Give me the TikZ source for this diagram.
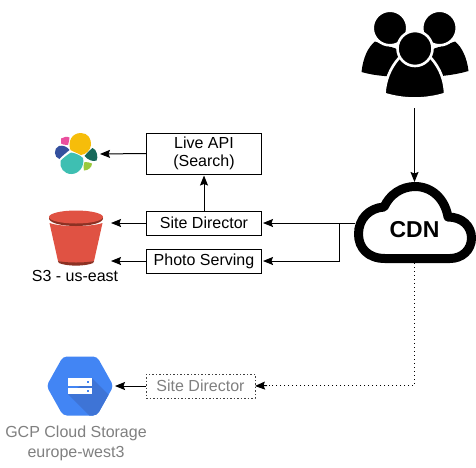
\documentclass[tikz,border=0pt]{standalone}
\usepackage{fontspec}
\setmainfont{Liberation Sans}
\usetikzlibrary{arrows.meta}
\definecolor{grayt}{HTML}{808080}
\definecolor{bkt}{HTML}{E05243}
\definecolor{bktd}{HTML}{8C3123}
\definecolor{gcpb}{HTML}{4285F4}
\definecolor{gcpd}{HTML}{3E74D6}
\definecolor{esy}{HTML}{F6BD0A}
\definecolor{est}{HTML}{3EBFB2}
\definecolor{esn}{HTML}{34509E}
\definecolor{esg}{HTML}{17695A}
\definecolor{esp}{HTML}{EA4F9E}
\definecolor{esl}{HTML}{99C93C}
\tikzset{
  x=1pt,y=-1pt,
  lbl/.style={font=\fontsize{16}{20}\selectfont,align=center,inner sep=0pt,text=black},
  glbl/.style={font=\fontsize{16}{20}\selectfont,align=center,inner sep=0pt,text=grayt},
  svc/.style={draw=black,line width=1pt,minimum width=115pt,inner sep=0pt,outer sep=0pt,
     font=\fontsize{16}{20}\selectfont,align=center},
  conn/.style={draw=black,line width=1pt,shorten >=1.5pt,-{Stealth[length=10pt,width=8pt,inset=1.5pt]}},
  dotc/.style={draw=black,line width=0.8pt,dash pattern=on 1.2pt off 2.8pt,shorten >=1.5pt},
  halo/.style={draw=white,line width=2.6pt},
}
\begin{document}
\begin{tikzpicture}
\useasboundingbox (0,0) rectangle (476,467);
\fill[white] (0,0) rectangle (476,467);
% users: left and right back figures
\fill[black] (361.5,72) .. controls (363,58) and (368,47) .. (375,41.5)
  -- (400,50) -- (410,77) .. controls (392,77) and (375,76) .. (361.5,72) -- cycle;
\fill[black] (468.5,71) .. controls (467,58) and (462,47) .. (455,41.5)
  -- (430,50) -- (420,77) .. controls (438,77) and (455,75) .. (468.5,71) -- cycle;
\fill[black,draw=white,line width=2.6pt] (390,28) circle[radius=17.3];
\fill[black,draw=white,line width=2.6pt] (439.5,28) circle[radius=17.3];
% front figure
\fill[black,halo] (384.5,94) .. controls (385,81) and (390,68) .. (399,58)
  -- (431,58)
  .. controls (440,68) and (445,81) .. (445,94)
  .. controls (425,100) and (404,100) .. (384.5,94) -- cycle;
\fill[black,draw=white,line width=2.6pt] (415,48.5) circle[radius=17.5];
\coordinate (users) at (414.5,108);
% cloud
\draw[black,line width=9pt,line join=round,fill=white]
  (385,258.5) .. controls (368,258.5) and (358.5,248) .. (358.5,234)
  .. controls (358.5,219) and (369,208) .. (384,207)
  .. controls (390,194) and (402,186.5) .. (415,186.5)
  .. controls (432,186.5) and (445,199) .. (448,217)
  .. controls (462,217) and (471.5,226) .. (471.5,238)
  .. controls (471.5,250) and (462,258.5) .. (450,258.5) -- cycle;
\node[inner sep=0pt,font=\fontsize{23}{26}\selectfont\bfseries] (cdn) at (414.5,230) {CDN};
\coordinate (cdnTop) at (414.5,183.5);
\coordinate (cdnLeft) at (355,223);
\coordinate (cdnBottom) at (414.5,263);
\coordinate (branch) at (339,223);
\coordinate (dotCorner) at (414.5,385.5);
\coordinate (dotEnd) at (267,385.5);
% boxes
\node[svc,minimum height=41pt] (api) at (204,153.5) {Live API\\[-1.5pt](Search)};
\node[svc,minimum height=24pt] (sd) at (204,223) {Site Director};
\node[svc,minimum height=24pt] (ps) at (204,261) {Photo Serving};
\node[draw=black!75,line width=0.7pt,dash pattern=on 1.5pt off 2pt,minimum width=109pt,minimum height=24pt,inner sep=0pt,outer sep=0pt,text=grayt,font=\fontsize{16}{20}\selectfont] (sd2) at (200.5,386) {Site Director};
% elastic
\fill[esy] (81,133) .. controls (88,133) and (91.5,139) .. (91,145)
  .. controls (90.5,150) and (86,154.5) .. (81,155)
  .. controls (77,153) and (73,151.5) .. (70.5,150)
  .. controls (67.5,141) and (72,133) .. (81,133) -- cycle;
\fill[est] (71,152.5) .. controls (75,153) and (80,155) .. (83,158)
  .. controls (85,166) and (79,174) .. (71.5,174)
  .. controls (64,174) and (59.5,168) .. (60.5,161)
  .. controls (63,158) and (67,155) .. (71,152.5) -- cycle;
\fill[esn] (59,146) .. controls (63,145) and (67,146.5) .. (69.5,150)
  .. controls (66,153) and (62,156) .. (59.5,159)
  .. controls (54,158) and (53,148) .. (59,146) -- cycle;
\fill[esg] (84.5,156) .. controls (87,153) and (90,150) .. (92.5,148)
  .. controls (97,149) and (98.5,158) .. (96.5,160.5)
  .. controls (93,162) and (88,160) .. (84.5,156) -- cycle;
\fill[esp] (61,138.5) .. controls (63.5,136.5) and (67.5,136.5) .. (69.5,137.5)
  .. controls (69.5,140) and (68.5,143) .. (68,145)
  .. controls (65,145) and (62,144.5) .. (61,143.5) -- cycle;
\fill[esl] (84.5,162) .. controls (87,162) and (90,162.5) .. (92,163.5)
  .. controls (92,167) and (88.5,170.5) .. (84,170.5)
  .. controls (83,167) and (83.5,165) .. (84.5,162) -- cycle;
\coordinate (elastic) at (98.5,154);
% bucket
\fill[bkt] (49.5,223) .. controls (60,227) and (92,227) .. (102.5,223) -- (94,261) .. controls (86,264) and (66,264) .. (58,261) -- cycle;
\fill[bktd] (58,261) .. controls (66,263) and (86,263) .. (94,261) -- (93,263) .. controls (85,266.5) and (67,266.5) .. (59,263) -- cycle;
\fill[bktd] (76,218.5) ellipse[x radius=27, y radius=7.5];
\fill[bkt] (76,217) ellipse[x radius=27, y radius=6.5];
\coordinate (bucketA) at (109.5,223);
\coordinate (bucketB) at (109.5,261);
\node[lbl] (s3) at (75,275.5) {S3 - us-east};
% gcp
\begin{scope}
\path[clip,rounded corners=4pt] (46.5,386) -- (63,356.5) -- (97,356.5) -- (113.5,386) -- (97,415.5) -- (63,415.5) -- cycle;
\fill[gcpb] (40,350) rectangle (120,420);
\fill[gcpd] (68,394) -- (92,378) -- (118,404) -- (118,425) -- (99,425) -- cycle;
\end{scope}
\fill[white] (68,378) rectangle (92,385.5);
\fill[white] (68,387.5) rectangle (92,394);
\fill[gcpb] (87,380.8) rectangle (89,382.8);
\fill[gcpb] (87,389.8) rectangle (89,391.8);
\coordinate (gcp) at (113.5,386);
\node[glbl] (gcpl) at (76,443) {GCP Cloud Storage\\europe-west3};
% connectors
\draw[conn] (users) -- (cdnTop);
\draw[conn] (cdnLeft) -- (sd.east);
\draw[conn] (branch) |- (ps.east);
\draw[conn] (api.west) -- (elastic);
\draw[conn] (sd.west) -- (bucketA);
\draw[conn] (ps.west) -- (bucketB);
\draw[conn] (sd.north) -- (api.south);
\draw[dotc] (cdnBottom) -- (dotCorner) -- (dotEnd);
\draw[conn,shorten >=0pt] (dotEnd) -- (sd2.east);
\draw[conn] (sd2.west) -- (gcp);
\end{tikzpicture}
\end{document}
